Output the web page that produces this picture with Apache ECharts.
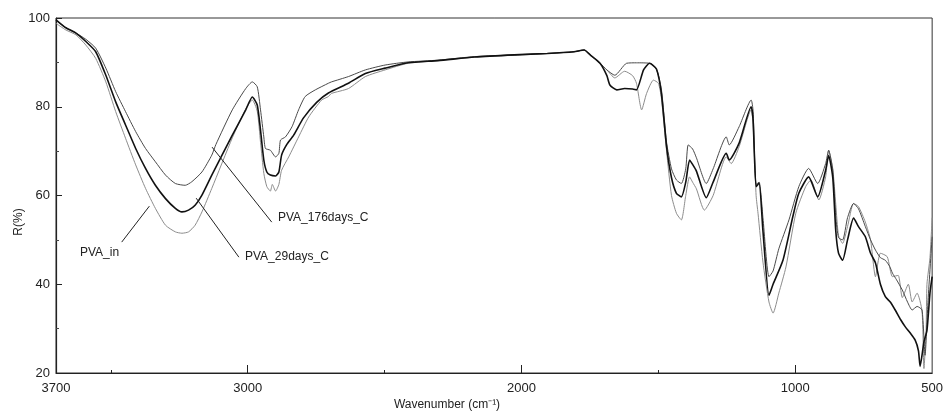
<!DOCTYPE html>
<html><head><meta charset="utf-8">
<script src="https://cdn.jsdelivr.net/npm/echarts@6/dist/echarts.min.js"></script>
<style>html,body{margin:0;padding:0;background:#fff}#c{width:946px;height:412px}</style>
</head><body><div id="c"></div>
<script>
const xTickLabels = [3700, 3000, 2000, 1000, 500];
const xMajorTicks = [3000, 2000, 1000];
const xMinorTicks = [3500, 2500, 1500];
const seriesNames = ['PVA_176days_C', 'PVA_29days_C', 'PVA_in'];

const pva176 = [[3700,99.5],[3664,97.8],[3627,96.6],[3591,95.2],[3555,93.2],[3518,88.7],[3482,83.4],[3446,78.9],[3409,74.4],[3373,70.6],[3337,67.6],[3300,64.6],[3264,62.7],[3228,62.3],[3204,63.1],[3167,65.3],[3131,69.1],[3116,71.5],[3056,79.3],[3007,84.1],[2983,85.6],[2965,84.5],[2953,79.3],[2941,73.2],[2935,70.6],[2917,70.2],[2898,68.7],[2886,69.5],[2880,72.5],[2862,73.2],[2838,75.5],[2814,79.3],[2790,82.3],[2753,83.8],[2705,85.3],[2694,85.6],[2632,86.8],[2570,88.3],[2498,89.4],[2414,90.1],[2305,90.5],[2171,91.3],[2026,91.7],[1906,92.0],[1808,92.4],[1771,92.8],[1749,91.7],[1713,89.8],[1688,88.3],[1659,87.1],[1616,89.8],[1580,89.9],[1532,89.8],[1507,88.5],[1489,84],[1470,72],[1452,66],[1434,63.5],[1416,62.7],[1400,66],[1391,71.4],[1375,70.5],[1361,68.5],[1325,62.7],[1300,66],[1252,73.2],[1241,71.4],[1205,75.5],[1161,81.5],[1154,79],[1143,62.5],[1132,63],[1118,55],[1096,41.7],[1081,43],[1060,48],[1023,54.5],[987,62],[951,66.1],[918,62.7],[889,67.2],[878,70.2],[863,65.7],[852,55.2],[842,50.5],[827,50],[809,55],[787,58.2],[769,57],[744,53],[725,50],[707,47.7],[689,46],[671,45.4],[655,44],[645,42.5],[630,41],[609,38.7],[590,36],[573,34.2],[555,35],[537,34.2],[526,24],[515,36.4],[500,50.7]];

const pva29 = [[3700,99.6],[3664,97.8],[3627,96.6],[3591,94.7],[3555,92.4],[3518,87.1],[3482,81.1],[3446,75.9],[3409,70.6],[3373,66.1],[3337,62.3],[3300,59.3],[3264,57.1],[3240,56.3],[3216,56.7],[3192,57.8],[3167,60.1],[3131,64.6],[3056,73.6],[3007,79.3],[2983,82.2],[2965,80.4],[2953,74.7],[2941,68],[2930,65.3],[2917,64.6],[2898,64.4],[2886,65.3],[2876,69.1],[2858,71.4],[2832,73.6],[2796,77.5],[2748,81],[2705,83.1],[2632,85.3],[2570,87.5],[2498,88.7],[2414,89.9],[2305,90.4],[2171,91.2],[2026,91.7],[1906,92],[1808,92.4],[1771,92.8],[1749,91.7],[1713,89.8],[1688,87],[1677,84.9],[1652,83.8],[1623,84.1],[1594,84],[1580,83.8],[1554,88.3],[1532,89.8],[1507,88.5],[1489,83],[1470,71],[1452,64],[1434,60.5],[1416,59.7],[1400,63],[1386,68],[1375,67],[1361,65.5],[1325,59.5],[1300,63],[1252,69.5],[1241,68],[1205,71.8],[1161,80],[1154,77],[1143,62],[1132,62.8],[1118,52],[1096,37.5],[1081,40],[1045,45.4],[1009,55.2],[987,60.5],[951,64.2],[918,59.7],[889,65.7],[878,69],[863,64],[852,52],[842,47],[827,45.4],[809,50],[787,54.9],[769,53],[744,50.7],[725,47],[707,44.8],[689,40],[671,37.2],[653,36],[635,34.2],[615,32],[598,30.4],[580,29],[562,27.4],[550,25],[544,21.5],[530,27],[519,29.6],[508,38],[500,41.7]];

const pvaIn = [[3700,98.8],[3664,97.3],[3627,96.2],[3591,93.9],[3555,90.9],[3518,85.6],[3482,78.9],[3446,72.9],[3409,66.9],[3373,61.6],[3337,57.1],[3300,53.3],[3264,51.8],[3240,51.5],[3216,51.8],[3192,53.3],[3167,56.3],[3131,61.6],[3056,73],[3007,79.5],[2983,81.5],[2965,79],[2953,72],[2941,65],[2930,62],[2917,61],[2910,62.5],[2898,61],[2886,62.5],[2876,65.7],[2850,68.7],[2814,73.2],[2777,77.7],[2730,81.5],[2705,82.3],[2694,83],[2632,84.1],[2570,86.8],[2498,88.3],[2414,89.8],[2305,90.4],[2171,91.2],[2026,91.6],[1906,92],[1808,92.4],[1771,92.8],[1749,91.7],[1713,89.8],[1688,88.3],[1659,86.5],[1623,88],[1594,87],[1580,85.3],[1561,79.3],[1543,83],[1518,86],[1500,85.3],[1489,82],[1470,70],[1452,60],[1434,56],[1416,54.5],[1400,60],[1386,64.2],[1375,63],[1361,61.5],[1332,56.7],[1300,60],[1252,68.7],[1234,67.2],[1205,71],[1161,79.3],[1154,76],[1143,60],[1136,56],[1118,45],[1096,36],[1081,33.5],[1060,38],[1034,43.9],[998,56],[962,62],[943,63.5],[914,59],[889,64.2],[878,70.2],[863,66],[852,58],[842,51],[827,49.2],[809,53],[787,58.2],[769,57.5],[744,54],[725,50],[707,41.7],[689,47],[664,46.2],[645,41.7],[624,42],[609,37],[587,40],[573,36],[555,38],[537,34],[530,21],[522,30],[519,40],[508,46],[500,55]];

// leader lines for the annotations: [from curve point, to label]
const leader176 = [[3130, 70.9], [2912, 54.0]];
const leader29 = [[3188, 59.4], [3032, 46.1]];
const leaderIn = [[3359, 57.6], [3460, 49.5]];

const chart = echarts.init(document.getElementById('c'), null, {renderer: 'canvas'});
const font = 'Liberation Sans, Arial, sans-serif';
chart.setOption({
  animation: false,
  backgroundColor: '#fff',
  grid: {left: 56, right: 9, top: 18, bottom: 39, show: true, borderColor: '#333', borderWidth: 1},
  xAxis: [{
    type: 'value', min: 500, max: 3700, interval: 500, inverse: true,
    axisLine: {lineStyle: {color: '#222', width: 1.2}},
    axisTick: {show: true, inside: true, length: 8, customValues: xMajorTicks, lineStyle: {color: '#222'}},
    axisLabel: {customValues: xTickLabels, color: '#222', fontSize: 13, fontFamily: font, margin: 9,
      formatter: function (v) { return String(v); }},
    splitLine: {show: false}
  }, {
    type: 'value', min: 500, max: 3700, interval: 500, inverse: true, position: 'bottom',
    axisLine: {show: false},
    axisTick: {show: true, inside: true, length: 3, customValues: xMinorTicks, lineStyle: {color: '#222'}},
    axisLabel: {show: false},
    splitLine: {show: false}
  }],
  yAxis: {
    type: 'value', min: 20, max: 100, interval: 20,
    axisLine: {show: true, lineStyle: {color: '#222', width: 1.2}},
    axisTick: {show: true, inside: true, length: 6, lineStyle: {color: '#222'}},
    minorTick: {show: true, splitNumber: 2, length: 3, lineStyle: {color: '#444'}},
    axisLabel: {color: '#222', fontSize: 13, fontFamily: font, margin: 6},
    splitLine: {show: false}
  },
  series: [
    {name: seriesNames[0], type: 'line', data: pva176, showSymbol: false, smooth: 0.2,
     lineStyle: {color: '#4a4a4a', width: 1}, z: 3,
     markLine: {silent: true, symbol: 'none', label: {show: false},
       lineStyle: {color: '#222', width: 1, type: 'solid'},
       data: [
         [{coord: leader176[0]}, {coord: leader176[1]}],
         [{coord: leader29[0]}, {coord: leader29[1]}],
         [{coord: leaderIn[0]}, {coord: leaderIn[1]}]
       ]}},
    {name: seriesNames[1], type: 'line', data: pva29, showSymbol: false, smooth: 0.2,
     lineStyle: {color: '#111', width: 1.6}, z: 4},
    {name: seriesNames[2], type: 'line', data: pvaIn, showSymbol: false, smooth: 0.2,
     lineStyle: {color: '#8c8c8c', width: 1}, z: 2}
  ],
  graphic: [
    {type: 'text', left: 278, top: 212, style: {text: seriesNames[0], fontSize: 12, fontFamily: font, fill: '#222'}},
    {type: 'text', left: 245, top: 251, style: {text: seriesNames[1], fontSize: 12, fontFamily: font, fill: '#222'}},
    {type: 'text', left: 80, top: 247, style: {text: seriesNames[2], fontSize: 12, fontFamily: font, fill: '#222'}},
    {type: 'text', x: 447, y: 405, style: {text: 'Wavenumber (cm⁻¹)', fontSize: 12, fontFamily: font, fill: '#222', align: 'center', verticalAlign: 'middle'}},
    {type: 'text', x: 19, y: 222, rotation: Math.PI / 2, style: {text: 'R(%)', fontSize: 12, fontFamily: font, fill: '#222', align: 'center', verticalAlign: 'middle'}}
  ]
});
</script>
</body></html>
